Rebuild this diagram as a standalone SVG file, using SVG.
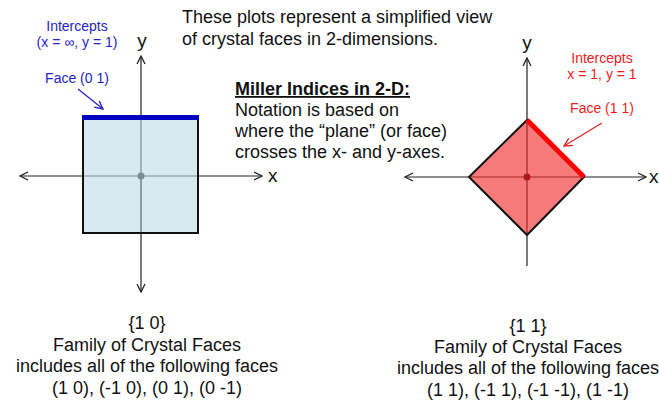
<svg xmlns="http://www.w3.org/2000/svg" width="659" height="405" viewBox="0 0 659 405">
<defs>
<marker id="ah" viewBox="0 0 10 10" refX="9" refY="5" markerWidth="10" markerHeight="10" markerUnits="userSpaceOnUse" orient="auto-start-reverse">
<path d="M1,1 L9,5 L1,9" fill="none" stroke="#222" stroke-width="1.3"/>
</marker>
<marker id="ahb" viewBox="0 0 10 10" refX="9" refY="5" markerWidth="10" markerHeight="10" markerUnits="userSpaceOnUse" orient="auto">
<path d="M1,1 L9,5 L1,9" fill="none" stroke="#2020c0" stroke-width="1.3"/>
</marker>
<marker id="ahr" viewBox="0 0 10 10" refX="9" refY="5" markerWidth="10" markerHeight="10" markerUnits="userSpaceOnUse" orient="auto">
<path d="M1,1 L9,5 L1,9" fill="none" stroke="#e02020" stroke-width="1.3"/>
</marker>
</defs>
<style>
text{font-family:"Liberation Sans",Arial,sans-serif;fill:#111}
.t{font-size:18px}
.c{text-anchor:middle}
.ax{stroke:#222;stroke-width:1.2;fill:none}
.lbl{font-size:19px}
.blue{fill:#2424c8;font-size:14px}
.red{fill:#ee1c1c;font-size:14px}
</style>
<rect width="659" height="405" fill="#fff"/>

<g id="intro">
<text class="t" x="182" y="23">These plots represent a simplified view</text>
<text class="t" x="182" y="45">of crystal faces in 2-dimensions.</text>
</g>
<g id="miller">
<text class="t" x="235" y="95" font-weight="bold" text-decoration="underline">Miller Indices in 2-D:</text>
<text class="t" x="235" y="116">Notation is based on</text>
<text class="t" x="235" y="137">where the “plane” (or face)</text>
<text class="t" x="235" y="158">crosses the x- and y-axes.</text>
</g>

<g id="connectors">
<line class="ax" x1="141" y1="233" x2="141" y2="56" marker-end="url(#ah)"/>
<line class="ax" x1="141" y1="176" x2="141" y2="292" marker-end="url(#ah)"/>
<line class="ax" x1="141" y1="176" x2="20" y2="176" marker-end="url(#ah)"/>
<line class="ax" x1="141" y1="176" x2="262" y2="176" marker-end="url(#ah)"/>
<line class="ax" x1="527" y1="177" x2="527" y2="58" marker-end="url(#ah)"/>
<line class="ax" x1="527" y1="177" x2="527" y2="266"/>
<line class="ax" x1="527" y1="177" x2="405" y2="177" marker-end="url(#ah)"/>
<line class="ax" x1="527" y1="177" x2="646" y2="177" marker-end="url(#ah)"/>
<line x1="78" y1="89" x2="103" y2="109" stroke="#2020c0" stroke-width="1.2" marker-end="url(#ahb)"/>
<line x1="602" y1="123" x2="564" y2="146" stroke="#e02020" stroke-width="1.2" marker-end="url(#ahr)"/>
</g>

<g id="square">
<circle cx="141" cy="176" r="3.5" fill="#222"/>
<rect x="83" y="117" width="115" height="116" fill="rgb(188,218,227)" fill-opacity="0.58" stroke="#111" stroke-width="2"/>
<line x1="82" y1="117.5" x2="199" y2="117.5" stroke="#0000c0" stroke-width="5"/>
</g>
<g id="diamond">
<circle cx="527" cy="177" r="3.5" fill="#3a0000"/>
<polygon points="527,120 584,177 527,235 469,177" fill="rgb(240,40,40)" fill-opacity="0.62" stroke="#111" stroke-width="2"/>
<line x1="527" y1="120" x2="584" y2="177" stroke="#ff0000" stroke-width="5"/>
</g>

<g id="left-labels">
<text class="lbl c" x="142" y="47">y</text>
<text class="lbl" x="268" y="182">x</text>
<text class="blue c" x="77" y="31">Intercepts</text>
<text class="blue c" x="77" y="47">(x = ∞, y = 1)</text>
<text class="blue c" x="77" y="83">Face (0 1)</text>
</g>
<g id="right-labels">
<text class="lbl c" x="527" y="49">y</text>
<text class="lbl" x="649" y="183" font-size="17">x</text>
<text class="red c" x="602" y="63">Intercepts</text>
<text class="red c" x="602" y="79">x = 1, y = 1</text>
<text class="red c" x="602" y="113">Face (1 1)</text>
</g>

<g id="left-caption">
<text class="t c" x="147" y="329">{1 0}</text>
<text class="t c" x="147" y="351">Family of Crystal Faces</text>
<text class="t c" x="147" y="372">includes all of the following faces</text>
<text class="t c" x="147" y="394">(1 0), (-1 0), (0 1), (0 -1)</text>
</g>
<g id="right-caption">
<text class="t c" x="528" y="332">{1 1}</text>
<text class="t c" x="528" y="353">Family of Crystal Faces</text>
<text class="t c" x="528" y="374">includes all of the following faces</text>
<text class="t c" x="528" y="396">(1 1), (-1 1), (-1 -1), (1 -1)</text>
</g>
</svg>
